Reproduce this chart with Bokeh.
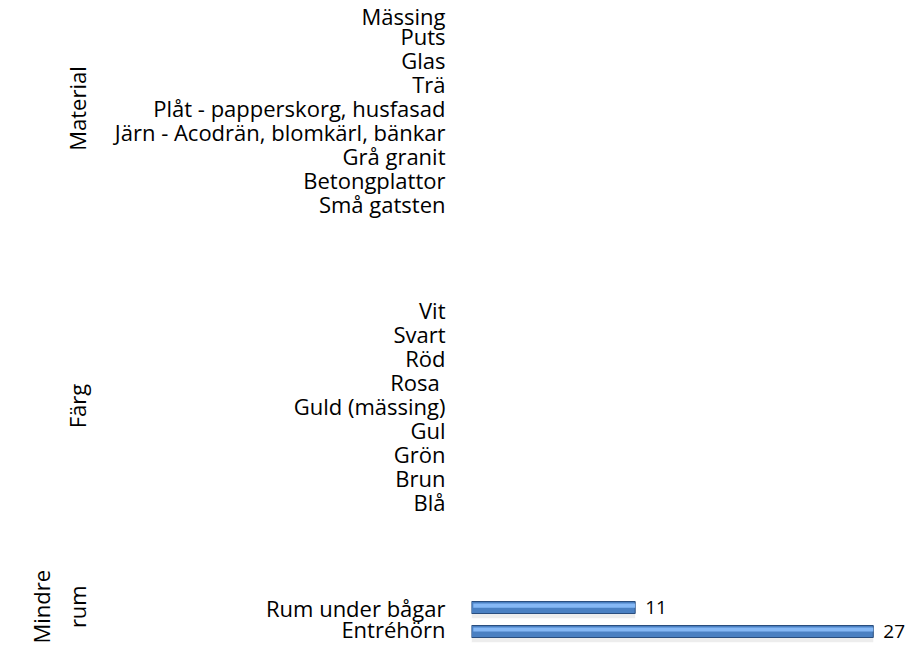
from bokeh.plotting import figure
from bokeh.models import FactorRange, Range1d, ColumnDataSource
from bokeh.transform import dodge
from bokeh.embed import file_html
from bokeh.resources import INLINE
from bokeh.core.properties import value

# Data (bottom to top)
groups = ["Mindre\nrum", "Färg", "Material"]
mindre_rum = ["Entréhörn", "Rum under bågar"]
mindre_rum_values = [27, 11]
farg = ["Blå", "Brun", "Grön", "Gul", "Guld (mässing)", "Rosa ", "Röd", "Svart", "Vit"]
farg_values = [0, 0, 0, 0, 0, 0, 0, 0, 0]
material = ["Små gatsten", "Betongplattor", "Grå granit", "Järn - Acodrän, blomkärl, bänkar",
            "Plåt - papperskorg, husfasad", "Trä", "Glas", "Puts", "Mässing"]
material_values = [0, 0, 0, 0, 0, 0, 0, 0, 0]

factors = ([(groups[0], c) for c in mindre_rum] +
           [(groups[1], c) for c in farg] +
           [(groups[2], c) for c in material])
vals = mindre_rum_values + farg_values + material_values

bar_f = [f for f, v in zip(factors, vals) if v > 0]
bar_v = [v for v in vals if v > 0]
src = ColumnDataSource(dict(y=bar_f, v=bar_v, lab=[str(v) for v in bar_v]))

FONT = "Open Sans"
FS = "22px"

p = figure(width=910, height=643, output_backend="svg", toolbar_location=None,
           y_range=FactorRange(*factors, factor_padding=0.0, group_padding=3.4, range_padding=0),
           x_range=Range1d(0, 29.5),
           min_border_left=471, min_border_right=0, min_border_top=0, min_border_bottom=0)
p.outline_line_color = None
p.xaxis.visible = False
p.xgrid.visible = False
p.ygrid.visible = False

# shadow
p.hbar(y=dodge("y", -0.32, range=p.y_range), right="v", left=0, height=0.25, source=src,
       fill_color="#9a9a9a", fill_alpha=0.18, line_color=None)
# main bar
p.hbar(y="y", right="v", left=0, height=0.5, source=src,
       fill_color="#4A80C2", line_color="#2A4E7E", line_width=1)
# highlight
p.hbar(y=dodge("y", 0.08, range=p.y_range), right="v", left=0.12, height=0.17, source=src,
       fill_color="#85B8F5", line_color=None)

p.text(x="v", y="y", text="lab", source=src, x_offset=10, text_baseline="middle",
       text_align="left", text_font=value(FONT), text_font_size="19px", text_color="#000000")

ax = p.yaxis[0]
ax.axis_line_color = None
ax.major_tick_line_color = None
ax.minor_tick_line_color = None
ax.major_label_standoff = 20
ax.major_label_text_font = FONT
ax.major_label_text_font_size = FS
ax.major_label_text_color = "#000000"
ax.group_text_font = FONT
ax.group_text_font_size = FS
ax.group_text_font_style = "normal"
ax.group_text_color = "#000000"
ax.separator_line_color = None

open("out.html", "w").write(file_html(p, INLINE))
